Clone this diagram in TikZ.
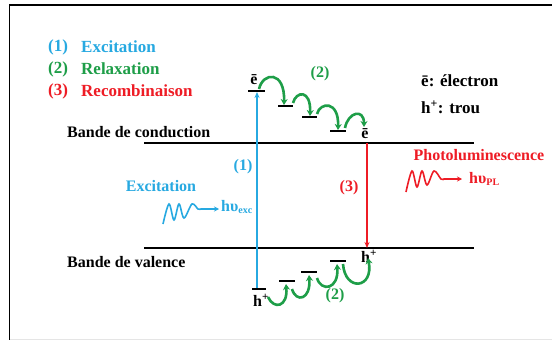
\documentclass[tikz,border=0pt]{standalone}
\usepackage{fontspec}
\setmainfont{Liberation Serif}
\usetikzlibrary{arrows.meta}
\definecolor{cblue}{HTML}{27A9E1}
\definecolor{cgreen}{HTML}{1E9E48}
\definecolor{cred}{HTML}{EE1C25}
\newcommand{\hplus}{h\textsuperscript{+}}
\newcommand{\sbs}[1]{\raisebox{-2.5pt}{\fontsize{10}{10}\selectfont #1}}
\begin{document}
\begin{tikzpicture}[x=1pt,y=-1pt,
  txt/.style={font=\bfseries\fontsize{16}{18}\selectfont, inner sep=0pt},
  leg/.style={font=\bfseries\fontsize{17}{19}\selectfont, inner sep=0pt, anchor=west},
  band/.style={line width=1.4pt},
  lvl/.style={line width=2.2pt},
  hop/.style={cgreen, line width=2.6pt, -{Stealth[length=6pt,width=7pt]}},
  wave/.style={line width=1.6pt, -{Stealth[length=5pt,width=5pt]}},
  vert/.style={line width=1.8pt, -{Stealth[length=6pt,width=5pt]}}]
\useasboundingbox (0,0) rectangle (552,340);
\fill[white] (0,0) rectangle (552,340);
% frame
\coordinate (fb) at (9.5,340);
\coordinate (ftl) at (9.5,5);
\coordinate (ftr) at (552,5);
\draw[line width=1.5pt] (fb) -- (ftl) -- (ftr);
\coordinate (gbl) at (10,339.5);
\coordinate (gbr) at (552,339.5);
\draw[gray!20, line width=0.8pt] (gbl) -- (gbr);

% legend
\node[leg, text=cblue] (l1n) at (48,47) {(1)};
\node[leg, text=cblue] (l1t) at (81,47) {Excitation};
\node[leg, text=cgreen] (l2n) at (48,69) {(2)};
\node[leg, text=cgreen] (l2t) at (81,69) {Relaxation};
\node[leg, text=cred] (l3n) at (48,91) {(3)};
\node[leg, text=cred] (l3t) at (81,91) {Recombinaison};

\node[leg] (ke) at (421,81) {ē: électron};
\node[leg] (kh) at (421,107) {\hplus: trou};

% bands
\coordinate (cbL) at (144,143); \coordinate (cbR) at (474,143);
\coordinate (vbL) at (144,248); \coordinate (vbR) at (474,248);
\draw[band] (cbL) -- (cbR);
\draw[band] (vbL) -- (vbR);
\node[txt, anchor=west] (cbl) at (67,132) {Bande de conduction};
\node[txt, anchor=west] (vbl) at (67,262) {Bande de valence};

% electron levels
\coordinate (e0a) at (248,91); \coordinate (e0b) at (265,91);
\coordinate (e1a) at (278,106); \coordinate (e1b) at (293,106);
\coordinate (e2a) at (302,117); \coordinate (e2b) at (317,117);
\coordinate (e3a) at (330,131); \coordinate (e3b) at (346,131);
\foreach \a/\b in {e0a/e0b,e1a/e1b,e2a/e2b,e3a/e3b} \draw[lvl] (\a) -- (\b);
% hole levels
\coordinate (h0a) at (252,289); \coordinate (h0b) at (266,289);
\coordinate (h1a) at (279,281); \coordinate (h1b) at (295,281);
\coordinate (h2a) at (301,272); \coordinate (h2b) at (317,272);
\coordinate (h3a) at (330,261); \coordinate (h3b) at (346,261);
\foreach \a/\b in {h0a/h0b,h1a/h1b,h2a/h2b,h3a/h3b} \draw[lvl] (\a) -- (\b);

\node[txt] (etop) at (254,80) {ē};
\node[txt] (eend) at (365,134) {ē};
\node[txt] (hbot) at (261,300) {\hplus};
\node[txt] (htop) at (369,256) {\hplus};

% excitation arrow
\coordinate (bs) at (257,288); \coordinate (be) at (257,92);
\draw[vert, cblue] (bs) -- (be);
\node[txt, text=cblue] (n1) at (243,167) {(1)};
% recombination arrow
\coordinate (rs) at (367,143); \coordinate (re) at (367,248);
\draw[vert, cred, line width=1.5pt] (rs) -- (re);
\node[txt, text=cred] (n3) at (349,188) {(3)};

% relaxation hops (top)
\coordinate (t1s) at (259,89); \coordinate (t1e) at (284,105);
\coordinate (t2s) at (293,103); \coordinate (t2e) at (310,116);
\coordinate (t3s) at (317,114); \coordinate (t3e) at (338,130);
\coordinate (t4s) at (345,128); \coordinate (t4e) at (364,127);
\draw[hop] (t1s) .. controls (263,72) and (285,70) .. (t1e);
\draw[hop] (t2s) .. controls (296,91) and (311,89) .. (t2e);
\draw[hop] (t3s) .. controls (320,102) and (339,100) .. (t3e);
\draw[hop] (t4s) .. controls (348,112) and (364,108) .. (t4e);
\node[txt, text=cgreen] (n2t) at (320,74) {(2)};

% relaxation hops (bottom)
\coordinate (b1s) at (268,297); \coordinate (b1e) at (286,284);
\coordinate (b2s) at (292,289); \coordinate (b2e) at (309,275);
\coordinate (b3s) at (317,278); \coordinate (b3e) at (337,264);
\coordinate (b4s) at (343,264); \coordinate (b4e) at (368,258);
\draw[hop] (b1s) .. controls (274,310) and (288,307) .. (b1e);
\draw[hop] (b2s) .. controls (296,303) and (311,300) .. (b2e);
\draw[hop] (b3s) .. controls (321,292) and (339,290) .. (b3e);
\draw[hop] (b4s) .. controls (345,292) and (374,289) .. (b4e);
\node[txt, text=cgreen] (n2b) at (335,296) {(2)};

% excitation photon
\node[txt, text=cblue] (exl) at (161,186) {Excitation};
\coordinate (xa) at (219,209);
\draw[wave, cblue] plot[smooth, tension=0.55] coordinates {(163,224) (169,204) (174,220) (179,204) (184,218) (192,204) (198,209) (201,209)} -- (xa);
\node[txt, text=cblue, anchor=west] (hx) at (221,207) {hυ\sbs{exc}};

% photoluminescence photon
\node[txt, text=cred] (pll) at (479,155) {Photoluminescence};
\coordinate (pa) at (462,179);
\draw[wave, cred] plot[smooth, tension=0.55] coordinates {(406,192) (412,171) (417,187) (422,171) (427,185) (434,171) (441,179) (444,179)} -- (pa);
\node[txt, text=cred, anchor=west] (hp) at (469,179) {hυ\sbs{PL}};
\end{tikzpicture}
\end{document}
